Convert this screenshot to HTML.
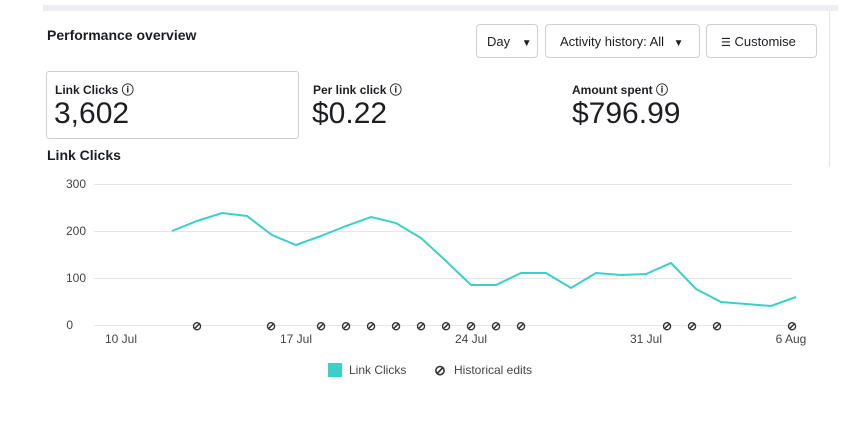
<!DOCTYPE html>
<html><head><meta charset="utf-8"><style>
body{margin:0;width:857px;height:445px;background:#fff;font-family:"Liberation Sans",sans-serif;position:relative;overflow:hidden;color:#1c1e21}
.a{position:absolute}
.btn{position:absolute;border:1px solid #ccd0d5;border-radius:4px;height:34px;top:24px;font-size:13px;line-height:34px;box-sizing:border-box;padding-left:10px;background:#fff}
.lbl{font-size:12px;font-weight:bold}
.big{font-size:30px}
</style></head><body>
<div class="a" style="left:43px;top:5px;width:795px;height:6px;background:#ededf3"></div>
<div class="a" style="left:829px;top:11px;width:1px;height:156px;background:#e2e4e8"></div>
<div class="a" style="left:47px;top:27px;font-size:14px;font-weight:bold">Performance overview</div>
<div class="btn" style="left:476px;width:62px">Day <span style="font-size:10px;margin-left:8px">▼</span></div>
<div class="btn" style="left:545px;width:155px;padding-left:14px">Activity history: All <span style="font-size:10px;margin-left:6px">▼</span></div>
<div class="btn" style="left:706px;width:111px;padding-left:14px"><span style="font-size:11px">☰</span> Customise</div>
<div class="a" style="left:46px;top:71px;width:251px;height:66px;border:1px solid #ccd0d5;border-radius:3px"></div>
<div class="a lbl" style="left:55px;top:81px">Link Clicks ⓘ</div>
<div class="a big" style="left:54px;top:97px">3,602</div>
<div class="a lbl" style="left:313px;top:81px">Per link click ⓘ</div>
<div class="a big" style="left:312px;top:97px">$0.22</div>
<div class="a lbl" style="left:572px;top:81px">Amount spent ⓘ</div>
<div class="a big" style="left:572px;top:97px">$796.99</div>
<div class="a" style="left:47px;top:147px;font-size:14px;font-weight:bold">Link Clicks</div>
<svg class="a" style="left:0;top:0" width="857" height="445" font-family="Liberation Sans" font-size="12" fill="#444">
<g stroke="#e4e6eb" stroke-width="1">
<line x1="94" x2="792" y1="184.5" y2="184.5"/><line x1="94" x2="792" y1="231.5" y2="231.5"/><line x1="94" x2="792" y1="278.5" y2="278.5"/><line x1="94" x2="792" y1="325.5" y2="325.5"/>
</g>
<g text-anchor="end"><text x="86" y="188">300</text><text x="86" y="235">200</text><text x="86" y="282">100</text><text x="73" y="329">0</text></g>
<g text-anchor="middle"><text x="121" y="343">10 Jul</text><text x="296" y="343">17 Jul</text><text x="471" y="343">24 Jul</text><text x="646" y="343">31 Jul</text><text x="791" y="343">6 Aug</text></g>
<polyline fill="none" stroke="#3bcfc9" stroke-width="2" points="172,231 197,221 222,213 247,216 272,235 296,245 321,236 346,226 371,217 396,223 421,238 446,261 471,285 496,285 521,273 546,273 571,288 596,273 621,275 646,274 671,263 696,289 721,302 746,304 771,306 796,297"/>
<g font-size="12" font-weight="bold" fill="#333" text-anchor="middle">
<text x="197" y="330">⊘</text><text x="271" y="330">⊘</text><text x="321" y="330">⊘</text><text x="346" y="330">⊘</text><text x="371" y="330">⊘</text><text x="396" y="330">⊘</text><text x="421" y="330">⊘</text><text x="446" y="330">⊘</text><text x="471" y="330">⊘</text><text x="496" y="330">⊘</text><text x="521" y="330">⊘</text><text x="667" y="330">⊘</text><text x="692" y="330">⊘</text><text x="717" y="330">⊘</text><text x="792" y="330">⊘</text>
</g>
<rect x="328" y="363" width="14" height="14" fill="#3bcfc9"/>
<text x="349" y="374">Link Clicks</text>
<text x="440" y="375" font-size="14" font-weight="bold" fill="#333" text-anchor="middle">⊘</text>
<text x="454" y="374">Historical edits</text>
</svg>
</body></html>
